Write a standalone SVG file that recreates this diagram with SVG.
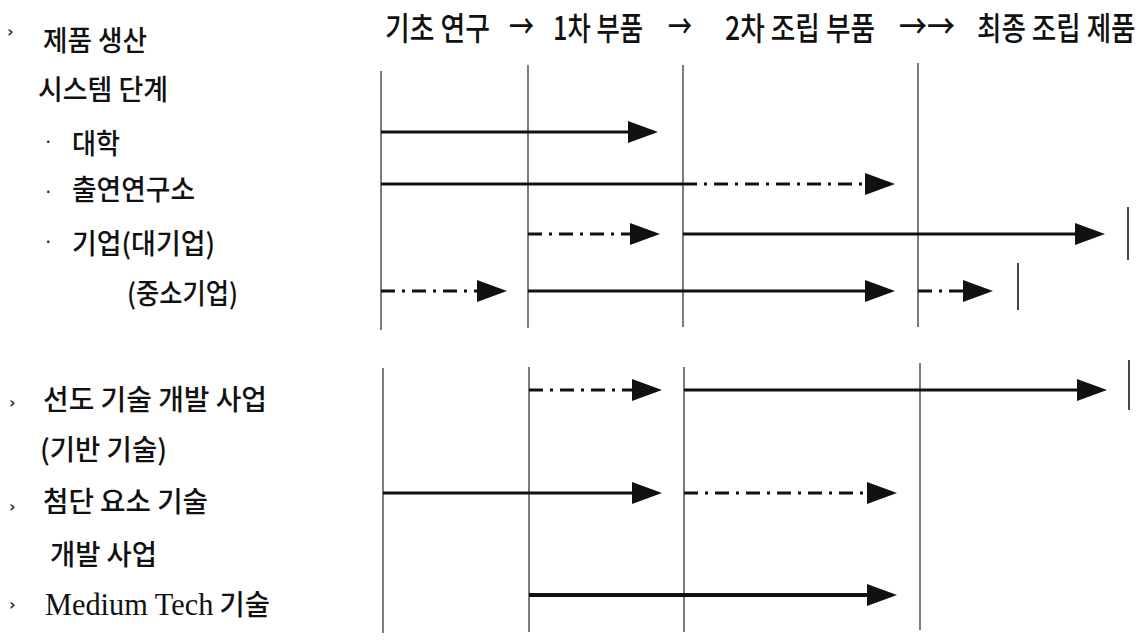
<svg xmlns="http://www.w3.org/2000/svg" width="1144" height="641" viewBox="0 0 1144 641">
<style>
.kr{font-family:"Noto Sans CJK KR","Noto Sans",sans-serif;font-weight:500;fill:#111;}
.hd{font-size:32px;}
.lb{font-size:28px;}
.bul{font-family:"DejaVu Sans",sans-serif;font-size:16px;font-weight:bold;fill:#333;}
.dot{font-family:"DejaVu Sans",sans-serif;font-size:20px;fill:#222;}
.lat{font-family:"Liberation Serif",serif;font-weight:normal;font-size:31px;}
.v{stroke:#444;stroke-width:1.4;fill:none;}
.s{stroke:#111;stroke-width:3;fill:none;marker-end:url(#ah);}
.s4{stroke:#111;stroke-width:3.8;fill:none;marker-end:url(#ah);}
.d{stroke:#111;stroke-width:3;fill:none;stroke-dasharray:14 7 3 7;marker-end:url(#ah);}
.sp{stroke:#111;stroke-width:3;fill:none;}
.end{stroke:#333;stroke-width:1.8;fill:none;}
</style>
<defs>
<marker id="ah" markerUnits="userSpaceOnUse" markerWidth="30" markerHeight="22" viewBox="0 0 30 22" refX="20" refY="11" orient="auto">
<path d="M0,0 L30,11 L0,22 z" fill="#111"/>
</marker>
</defs>

<g id="header">
<text class="kr hd" x="385" y="40" textLength="105" lengthAdjust="spacingAndGlyphs">기초 연구</text>
<text class="kr hd" x="509" y="38" textLength="25" lengthAdjust="spacingAndGlyphs">→</text>
<text class="kr hd" x="553" y="40" textLength="90" lengthAdjust="spacingAndGlyphs">1차 부품</text>
<text class="kr hd" x="668" y="38" textLength="24" lengthAdjust="spacingAndGlyphs">→</text>
<text class="kr hd" x="725" y="40" textLength="150" lengthAdjust="spacingAndGlyphs">2차 조립 부품</text>
<text class="kr hd" x="899" y="38" textLength="56" lengthAdjust="spacingAndGlyphs">→→</text>
<text class="kr hd" transform="translate(977,40) scale(0.83,1)" x="0" y="0">최종 조립 제품</text>
</g>

<g id="label-system">
<text class="bul" x="7" y="37">›</text>
<text class="kr lb" x="43" y="51" textLength="104" lengthAdjust="spacingAndGlyphs">제품 생산</text>
<text class="kr lb" x="38" y="100" textLength="130" lengthAdjust="spacingAndGlyphs">시스템 단계</text>
</g>
<g id="label-univ">
<text class="dot" x="45" y="149">·</text>
<text class="kr lb" x="72" y="154" textLength="48" lengthAdjust="spacingAndGlyphs">대학</text>
</g>
<g id="label-inst">
<text class="dot" x="45" y="199">·</text>
<text class="kr lb" x="72" y="200" textLength="123" lengthAdjust="spacingAndGlyphs">출연연구소</text>
</g>
<g id="label-large">
<text class="dot" x="45" y="249">·</text>
<text class="kr lb" x="72" y="254" textLength="143" lengthAdjust="spacingAndGlyphs">기업(대기업)</text>
</g>
<g id="label-sme">
<text class="kr lb" x="127" y="304" textLength="111" lengthAdjust="spacingAndGlyphs">(중소기업)</text>
</g>
<g id="label-lead">
<text class="bul" x="9" y="408">›</text>
<text class="kr lb" x="43" y="410" textLength="224" lengthAdjust="spacingAndGlyphs">선도 기술 개발 사업</text>
<text class="kr lb" x="40" y="460" textLength="127" lengthAdjust="spacingAndGlyphs">(기반 기술)</text>
</g>
<g id="label-adv">
<text class="bul" x="9" y="512">›</text>
<text class="kr lb" x="43" y="512" textLength="165" lengthAdjust="spacingAndGlyphs">첨단 요소 기술</text>
<text class="kr lb" x="50" y="565" textLength="107" lengthAdjust="spacingAndGlyphs">개발 사업</text>
</g>
<g id="label-medium">
<text class="bul" x="9" y="610">›</text>
<text class="kr lb" x="45" y="615" textLength="225" lengthAdjust="spacingAndGlyphs"><tspan class="lat">Medium Tech</tspan> 기술</text>
</g>

<g id="grid">
<line class="v" x1="381" y1="71" x2="381" y2="330"/>
<line class="v" x1="528" y1="65" x2="528" y2="328"/>
<line class="v" x1="683" y1="65" x2="683" y2="327"/>
<line class="v" x1="918" y1="63" x2="918" y2="327"/>
<line class="v" x1="383" y1="368" x2="383" y2="633"/>
<line class="v" x1="529" y1="367" x2="529" y2="632"/>
<line class="v" x1="684" y1="367" x2="684" y2="632"/>
<line class="v" x1="920" y1="363" x2="920" y2="630"/>
</g>

<g id="connectors">
<path class="s" d="M381,132 H648"/>
<path class="sp" d="M381,184 H683"/>
<path class="d" d="M683,184 H885"/>
<path class="d" d="M528,234 H650"/>
<path class="s" d="M683,234 H1095"/>
<line class="end" x1="1128" y1="207" x2="1128" y2="260"/>
<path class="d" d="M381,291 H497"/>
<path class="s" d="M528,291 H885"/>
<path class="d" d="M918,291 H983"/>
<line class="end" x1="1018" y1="263" x2="1018" y2="310"/>
<path class="d" d="M529,390 H652"/>
<path class="s" d="M684,390 H1097"/>
<line class="end" x1="1129" y1="360" x2="1129" y2="410"/>
<path class="s" d="M383,493 H652"/>
<path class="d" d="M684,493 H887"/>
<path class="s4" d="M529,595 H887"/>
</g>
</svg>
